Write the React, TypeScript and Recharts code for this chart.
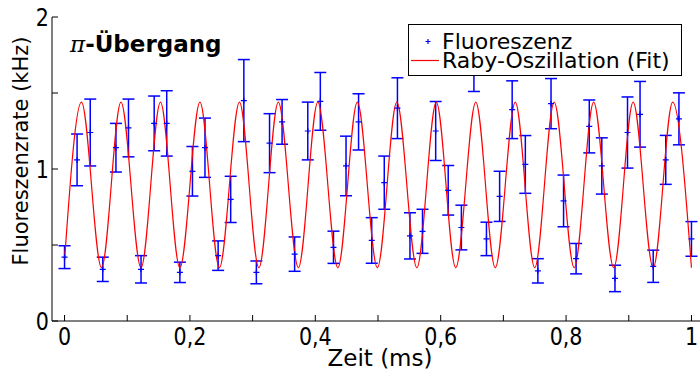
import { ComposedChart, Line, Scatter, ErrorBar, XAxis, YAxis, Legend } from "recharts";

// Messpunkte (Zeit in ms, Fluoreszenzrate in kHz, Fehler in kHz)
const timeMs = [
  0, 0.02, 0.041, 0.061, 0.082, 0.102, 0.122, 0.143, 0.163, 0.184,
  0.204, 0.224, 0.245, 0.265, 0.286, 0.306, 0.327, 0.347, 0.367, 0.388,
  0.408, 0.429, 0.449, 0.469, 0.49, 0.51, 0.531, 0.551, 0.571, 0.592,
  0.612, 0.633, 0.653, 0.673, 0.694, 0.714, 0.735, 0.755, 0.776, 0.796,
  0.816, 0.837, 0.857, 0.878, 0.898, 0.918, 0.939, 0.959, 0.98, 1.0,
];
const rateKHz = [
  0.42, 1.06, 1.24, 0.34, 1.14, 1.27, 0.34, 1.3, 1.3, 0.32,
  0.985, 1.14, 0.43, 0.8, 1.45, 0.32, 1.17, 1.31, 0.44, 1.25,
  1.445, 0.485, 1.02, 1.31, 0.53, 0.91, 1.4, 0.56, 0.59, 1.25,
  0.86, 0.615, 1.7, 0.54, 0.82, 1.39, 1.03, 0.33, 1.43, 0.79,
  0.41, 1.28, 1.02, 0.28, 1.24, 1.36, 0.36, 1.06, 1.33, 0.54,
];
const rateErr = [
  0.075, 0.17, 0.22, 0.08, 0.16, 0.19, 0.09, 0.18, 0.215, 0.067,
  0.163, 0.195, 0.097, 0.152, 0.27, 0.075, 0.194, 0.147, 0.113, 0.19,
  0.19, 0.106, 0.196, 0.185, 0.15, 0.175, 0.2, 0.152, 0.145, 0.194,
  0.163, 0.147, 0.19, 0.11, 0.165, 0.19, 0.19, 0.08, 0.165, 0.17,
  0.1, 0.174, 0.185, 0.087, 0.234, 0.216, 0.106, 0.161, 0.171, 0.114,
];

// Fit: Maxima und Minima der Rabi-Oszillation
const fitTimeMs = [
  0, 0.027, 0.059, 0.09, 0.122, 0.153, 0.184, 0.216, 0.247, 0.279,
  0.31, 0.341, 0.373, 0.404, 0.436, 0.467, 0.499, 0.53, 0.562, 0.593,
  0.624, 0.656, 0.687, 0.719, 0.75, 0.781, 0.813, 0.844, 0.876, 0.907,
  0.939, 0.97, 1.0,
];
const fitRateKHz = [
  0.4, 1.44, 0.35, 1.44, 0.35, 1.44, 0.35, 1.44, 0.35, 1.44,
  0.35, 1.44, 0.35, 1.44, 0.35, 1.44, 0.35, 1.44, 0.35, 1.44,
  0.35, 1.44, 0.35, 1.44, 0.35, 1.44, 0.35, 1.44, 0.35, 1.44,
  0.35, 1.44, 0.35,
];

const xTicks = [0, 0.1, 0.2, 0.3, 0.4, 0.5, 0.6, 0.7, 0.8, 0.9, 1];
const xTickLabels = ["0", "", "0,2", "", "0,4", "", "0,6", "", "0,8", "", "1"];
const yTicks = [0, 0.5, 1, 1.5, 2];
const yTickLabels = ["0", "", "1", "", "2"];

const points = timeMs.map((t, i) => ({ t, rate: rateKHz[i], err: rateErr[i] }));
const fit = fitTimeMs.map((t, i) => ({ t, rate: fitRateKHz[i] }));

const FONT = "'DejaVu Sans', sans-serif";
const BLUE = "#0000ff";
const RED = "#ff0000";

// schmale Ziffern wie im Original
function TickText({ x, y, anchor, children }: any) {
  return (
    <text
      transform={`translate(${x},${y}) scale(0.86,1)`}
      textAnchor={anchor}
      fontFamily={FONT}
      fontSize={24}
      fill="#000"
    >
      {children}
    </text>
  );
}

function BottomTick(props: any) {
  const { x, y, payload } = props;
  const label = xTickLabels[xTicks.indexOf(payload.value)];
  return (
    <g>
      <line x1={x} y1={y} x2={x} y2={y - 6} stroke="#000" />
      {label && <TickText x={x} y={y + 24} anchor="middle">{label}</TickText>}
    </g>
  );
}

function TopTick(props: any) {
  const { x, y } = props;
  return <line x1={x} y1={y} x2={x} y2={y + 6} stroke="#000" />;
}

function LeftTick(props: any) {
  const { x, y, payload } = props;
  const label = yTickLabels[yTicks.indexOf(payload.value)];
  return (
    <g>
      <line x1={x} y1={y} x2={x + 6} y2={y} stroke="#000" />
      {label && <TickText x={x - 3} y={y + 8.5} anchor="end">{label}</TickText>}
    </g>
  );
}

function RightTick(props: any) {
  const { x, y } = props;
  return <line x1={x} y1={y} x2={x - 6} y2={y} stroke="#000" />;
}

function YTitle() {
  return (
    <text
      x={21}
      y={151}
      transform="rotate(-90, 21, 151)"
      textAnchor="middle"
      dominantBaseline="central"
      fontFamily={FONT}
      fontSize={21}
      fill="#000"
    >
      Fluoreszenzrate (kHz)
    </text>
  );
}

function XTitle() {
  return (
    <text x={380} y={366} textAnchor="middle" fontFamily={FONT} fontSize={23} fill="#000">
      Zeit (ms)
    </text>
  );
}

function PlusShape(props: any) {
  const { cx, cy } = props;
  return (
    <path
      d={`M${cx - 3},${cy}H${cx + 3}M${cx},${cy - 3}V${cy + 3}`}
      stroke={BLUE}
      strokeWidth={1.2}
      fill="none"
    />
  );
}

function LegendBox() {
  const row = { display: "flex", alignItems: "center", height: 19 } as const;
  return (
    <div
      style={{
        width: 274,
        height: 52,
        boxSizing: "border-box",
        border: "1px solid #000",
        background: "#fff",
        paddingTop: 7,
        fontFamily: FONT,
        fontSize: 22,
        lineHeight: "19px",
        color: "#000",
      }}
    >
      <div style={row}>
        <svg width={33} height={19}>
          <path d="M16.5,9.5H21.5M19,7V12" stroke={BLUE} strokeWidth={1.2} />
        </svg>
        <span>Fluoreszenz</span>
      </div>
      <div style={row}>
        <svg width={33} height={19}>
          <line x1={2} y1={9.5} x2={30} y2={9.5} stroke={RED} strokeWidth={1.2} />
        </svg>
        <span>Raby-Oszillation (Fit)</span>
      </div>
    </div>
  );
}

export default function App() {
  return (
    <div style={{ position: "absolute", left: 0, top: 0, width: 700, height: 375, overflow: "hidden", background: "#fff" }}>
      <ComposedChart width={704} height={375} margin={{ top: 17, right: 0, bottom: 0, left: 0 }}>
        <XAxis
          dataKey="t"
          type="number"
          domain={[-0.02, 1.02]}
          ticks={xTicks}
          interval={0}
          height={54}
          tickSize={0}
          tickMargin={0}
          tickLine={false}
          tick={<BottomTick />}
          axisLine={{ stroke: "#000" }}
          allowDataOverflow
          label={<XTitle />}
        />
        <XAxis
          xAxisId="top"
          orientation="top"
          dataKey="t"
          type="number"
          domain={[-0.02, 1.02]}
          ticks={xTicks}
          interval={0}
          height={0}
          tickSize={0}
          tickMargin={0}
          tickLine={false}
          tick={<TopTick />}
          axisLine={{ stroke: "#000" }}
          allowDataOverflow
        />
        <YAxis
          type="number"
          domain={[0, 2]}
          ticks={yTicks}
          interval={0}
          width={52}
          tickSize={0}
          tickMargin={0}
          tickLine={false}
          tick={<LeftTick />}
          axisLine={{ stroke: "#000" }}
          allowDataOverflow
          label={<YTitle />}
        />
        <YAxis
          yAxisId="right"
          orientation="right"
          type="number"
          domain={[0, 2]}
          ticks={yTicks}
          interval={0}
          width={0}
          tickSize={0}
          tickMargin={0}
          tickLine={false}
          tick={<RightTick />}
          axisLine={{ stroke: "#000" }}
          allowDataOverflow
        />
        <Scatter data={points} dataKey="rate" shape={<PlusShape />} isAnimationActive={false}>
          <ErrorBar dataKey="err" direction="y" width={6} stroke={BLUE} strokeWidth={1.5} isAnimationActive={false} />
        </Scatter>
        <Line
          data={fit}
          dataKey="rate"
          type="monotone"
          stroke={RED}
          strokeWidth={1.2}
          dot={false}
          activeDot={false}
          isAnimationActive={false}
        />
        <Legend
          layout="vertical"
          align="center"
          verticalAlign="middle"
          wrapperStyle={{ top: 24, left: 408, width: "auto" }}
          content={<LegendBox />}
        />
      </ComposedChart>
      <div
        style={{
          position: "absolute",
          left: 70,
          top: 32,
          fontFamily: FONT,
          fontSize: 23,
          fontWeight: "bold",
          lineHeight: "24px",
          color: "#000",
          whiteSpace: "nowrap",
        }}
      >
        <span style={{ fontFamily: "'DejaVu Serif', serif", fontStyle: "italic", fontWeight: "normal" }}>π</span>
        -Übergang
      </div>
    </div>
  );
}
